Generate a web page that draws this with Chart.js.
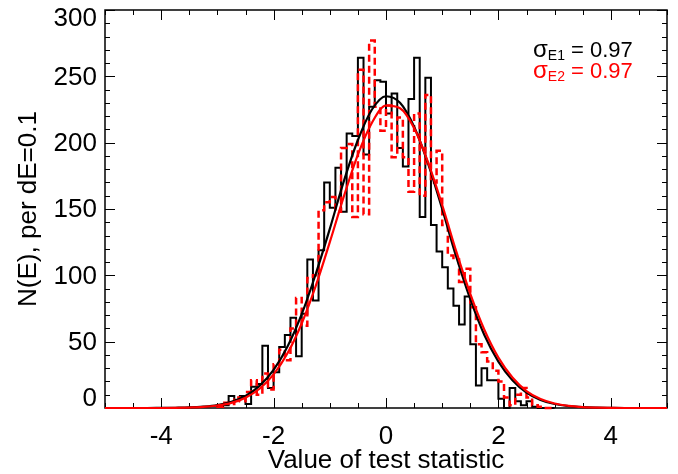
<!DOCTYPE html>
<html>
<head>
<meta charset="utf-8">
<script src="https://cdn.jsdelivr.net/npm/chart.js@4.4.1/dist/chart.umd.min.js"></script>
<style>
  html, body { margin: 0; padding: 0; background: #fff; }
  #wrap { width: 678px; height: 474px; position: relative; }
</style>
</head>
<body>
<div id="wrap"><canvas id="histChart"></canvas></div>
<script>
// histogram bins, dE = 0.1, first bin starts at -3.0
const binStart = -3.0;
const binWidth = 0.1;

const countsE1 = [
    0, 1, 2, 9, 6, 9, 3, 16, 18, 47,
    15, 27, 46, 55, 68, 39, 71, 112, 81, 119,
    170, 151, 181, 148, 207, 205, 264, 191, 227, 247,
    246, 222, 237, 196, 182, 233, 264, 144, 249, 138,
    118, 106, 90, 77, 63, 84, 48, 17, 30, 21,
    21, 7, 0, 15, 5, 2, 5, 1, 0, 0
];

const countsE2 = [
    0, 1, 4, 3, 8, 5, 12, 21, 10, 26,
    14, 33, 44, 36, 60, 83, 62, 98, 100, 149,
    155, 159, 148, 196, 199, 144, 255, 146, 277, 227,
    209, 228, 189, 219, 189, 163, 222, 160, 236, 170,
    194, 138, 115, 112, 95, 105, 76, 48, 42, 35,
    28, 20, 8, 2, 10, 15, 8, 2, 1, 0
];

// gaussian fits
const fitX = [
    -5, -4.75, -4.5, -4.25, -4, -3.75, -3.5, -3.25, -3, -2.75,
    -2.5, -2.25, -2, -1.75, -1.5, -1.25, -1, -0.75, -0.5, -0.25,
    0, 0.25, 0.5, 0.75, 1, 1.25, 1.5, 1.75, 2, 2.25,
    2.5, 2.75, 3, 3.25, 3.5, 3.75, 4, 4.25, 4.5, 4.75, 5
];
const fitE1 = [
    0, 0, 0, 0, 0.1, 0.2, 0.4, 1.0, 2.2, 4.7,
    9.1, 16.7, 28.7, 46.5, 70.7, 101, 135, 171, 202, 225,
    235, 230, 212, 184, 150, 114, 82, 55, 35, 21,
    11.7, 6.1, 3.0, 1.4, 0.6, 0.25, 0.1, 0, 0, 0, 0
];
const fitE2 = [
    0, 0, 0, 0, 0, 0.1, 0.35, 0.8, 1.9, 3.9,
    7.8, 14.5, 25.3, 41.4, 63.7, 92, 125, 159.5, 191, 215,
    228, 226, 211, 185, 153, 118, 86, 59, 38, 23,
    12.8, 6.8, 3.4, 1.6, 0.7, 0.3, 0.1, 0, 0, 0, 0
];

const xTickValues = [-4, -2, 0, 2, 4];
const yTickValues = [0, 50, 100, 150, 200, 250, 300];
const sigmaLabels = ['0.97', '0.97'];

const FONT = "'Liberation Sans', Arial, Helvetica, sans-serif";

function stepPoints(counts) {
    const pts = counts.map((c, i) => ({ x: +(binStart + i * binWidth).toFixed(2), y: c }));
    pts.push({ x: +(binStart + counts.length * binWidth).toFixed(2), y: counts[counts.length - 1] });
    return pts;
}

function curvePoints(values) {
    return fitX.map((x, i) => ({ x: x, y: values[i] }));
}

// IDL style box with inward ticks on all four sides
const boxTicks = {
    id: 'boxTicks',
    beforeDatasetsDraw(chart) {
        const { ctx, chartArea: a, scales: { x, y } } = chart;
        ctx.save();
        ctx.strokeStyle = '#000';
        ctx.lineWidth = 1;
        ctx.beginPath();
        for (let i = 0; i <= 20; i++) {
            const v = -5 + i * 0.5;
            const px = Math.round(x.getPixelForValue(v)) + 0.5;
            const len = xTickValues.includes(v) ? 10 : 5;
            ctx.moveTo(px, a.bottom); ctx.lineTo(px, a.bottom - len);
            ctx.moveTo(px, a.top); ctx.lineTo(px, a.top + len);
        }
        for (let v = 0; v <= 300; v += 10) {
            const py = Math.round(y.getPixelForValue(v)) + 0.5;
            const len = v % 50 === 0 ? 10 : 5;
            ctx.moveTo(a.left, py); ctx.lineTo(a.left + len, py);
            ctx.moveTo(a.right, py); ctx.lineTo(a.right - len, py);
        }
        ctx.stroke();
        ctx.lineWidth = 1.5;
        ctx.strokeRect(a.left, a.top, a.right - a.left, a.bottom - a.top);
        ctx.restore();
    },
    afterDraw(chart) {
        const { ctx, chartArea: a, scales: { y } } = chart;
        ctx.save();
        ctx.font = '26px ' + FONT;
        ctx.fillStyle = '#000';
        ctx.textAlign = 'right';
        ctx.textBaseline = 'middle';
        yTickValues.forEach(v => {
            let py = y.getPixelForValue(v) + 1;
            if (v === 0) py -= 10;
            if (v === 300) py += 8;
            ctx.fillText(String(v), a.left - 8, py);
        });

        // sigma annotations
        const rows = [
            { sub: 'E1', color: '#000', base: 57 },
            { sub: 'E2', color: '#ff0000', base: 78 }
        ];
        rows.forEach((r, i) => {
            let px = 533;
            ctx.textAlign = 'left';
            ctx.textBaseline = 'alphabetic';
            ctx.fillStyle = r.color;
            ctx.font = '24px ' + FONT;
            ctx.fillText('\u03c3', px, r.base);
            px += ctx.measureText('\u03c3').width;
            ctx.font = '14px ' + FONT;
            ctx.fillText(r.sub, px, r.base + 3);
            px += ctx.measureText(r.sub).width;
            ctx.font = '22px ' + FONT;
            ctx.fillText(' = ' + sigmaLabels[i], px, r.base);
        });
        ctx.restore();
    }
};

new Chart(document.getElementById('histChart'), {
    type: 'line',
    data: {
        datasets: [
            {
                label: 'E2 fit',
                data: curvePoints(fitE2),
                borderColor: '#ff0000',
                borderWidth: 2.2,
                pointRadius: 0,
                cubicInterpolationMode: 'monotone',
                clip: 3,
                order: 0
            },
            {
                label: 'E1 fit',
                data: curvePoints(fitE1),
                borderColor: '#000000',
                borderWidth: 2.2,
                pointRadius: 0,
                cubicInterpolationMode: 'monotone',
                clip: 3,
                order: 1
            },
            {
                label: 'E2',
                data: stepPoints(countsE2),
                borderColor: '#ff0000',
                borderWidth: 2.5,
                borderDash: [7, 4],
                pointRadius: 0,
                stepped: 'after',
                clip: 3,
                order: 2
            },
            {
                label: 'E1',
                data: stepPoints(countsE1),
                borderColor: '#000000',
                borderWidth: 2,
                pointRadius: 0,
                stepped: 'after',
                clip: 3,
                order: 3
            }
        ]
    },
    options: {
        responsive: true,
        maintainAspectRatio: false,
        animation: false,
        events: [],
        layout: { padding: { left: 9, right: 11, top: 10, bottom: 0 } },
        plugins: {
            legend: { display: false },
            tooltip: { enabled: false }
        },
        scales: {
            x: {
                type: 'linear',
                min: -5,
                max: 5,
                afterBuildTicks: scale => { scale.ticks = xTickValues.map(v => ({ value: v })); },
                afterFit: scale => { scale.height = 66; },
                grid: { display: false, drawTicks: false },
                border: { display: false },
                ticks: {
                    color: '#000',
                    padding: 13,
                    maxRotation: 0,
                    font: { family: FONT, size: 26 }
                },
                title: {
                    display: true,
                    text: 'Value of test statistic',
                    color: '#000',
                    padding: { top: 0, bottom: -2 },
                    font: { family: FONT, size: 26 }
                }
            },
            y: {
                type: 'linear',
                min: 0,
                max: 300,
                afterBuildTicks: scale => { scale.ticks = yTickValues.map(v => ({ value: v })); },
                afterFit: scale => { scale.width = 96; },
                grid: { display: false, drawTicks: false },
                border: { display: false },
                ticks: { display: false },
                title: {
                    display: true,
                    text: 'N(E), per dE=0.1',
                    color: '#000',
                    font: { family: FONT, size: 26 }
                }
            }
        }
    },
    plugins: [boxTicks]
});
</script>
</body>
</html>
